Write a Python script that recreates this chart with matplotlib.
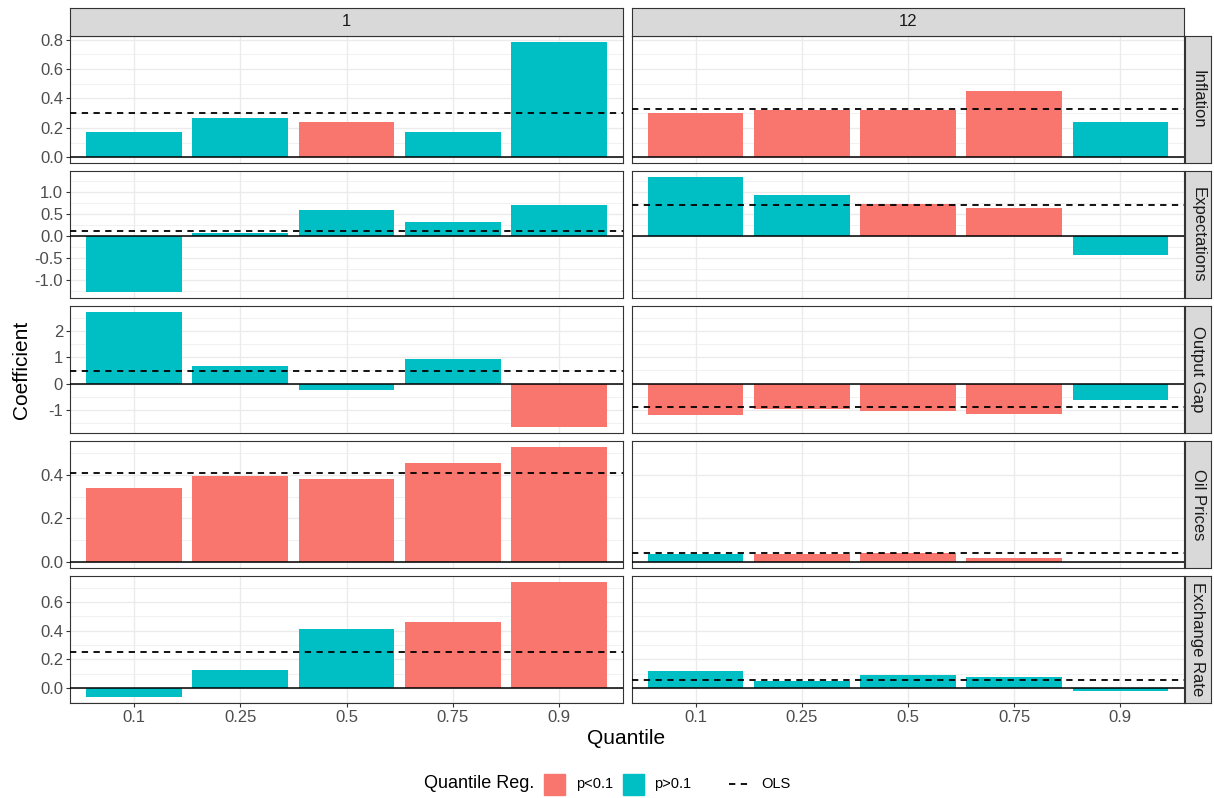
import numpy as np
import matplotlib as mpl
mpl.use("agg")
import matplotlib.pyplot as plt
from matplotlib.patches import Rectangle
from matplotlib.lines import Line2D
from matplotlib.ticker import FixedLocator, MultipleLocator

plt.rcParams['font.family'] = ['Liberation Sans', 'DejaVu Sans']

quantiles = ['0.1', '0.25', '0.5', '0.75', '0.9']
horizons = ['1', '12']
variables = ['Inflation', 'Expectations', 'Output Gap', 'Oil Prices', 'Exchange Rate']

# quantile regression coefficients, [horizon][quantile]
inflation = [[0.173, 0.266, 0.239, 0.170, 0.785],
             [0.300, 0.320, 0.320, 0.448, 0.239]]
expectations = [[-1.277, 0.084, 0.600, 0.320, 0.715],
                [1.354, 0.935, 0.738, 0.646, -0.418]]
output_gap = [[2.745, 0.690, -0.243, 0.920, -1.670],
              [-1.200, -0.970, -1.060, -1.160, -0.640]]
oil_prices = [[0.341, 0.395, 0.382, 0.455, 0.528],
              [0.037, 0.039, 0.041, 0.020, 0.001]]
exchange_rate = [[-0.066, 0.124, 0.415, 0.464, 0.743],
                 [0.121, 0.049, 0.089, 0.075, -0.023]]

# significance: 1 -> p<0.1
sig_inflation = [[0, 0, 1, 0, 0], [1, 1, 1, 1, 0]]
sig_expectations = [[0, 0, 0, 0, 0], [0, 0, 1, 1, 0]]
sig_output_gap = [[0, 0, 0, 0, 1], [1, 1, 1, 1, 0]]
sig_oil_prices = [[1, 1, 1, 1, 1], [0, 1, 1, 1, 0]]
sig_exchange_rate = [[0, 0, 0, 1, 1], [0, 0, 0, 0, 0]]

# OLS coefficient, [horizon]
ols_inflation = [0.302, 0.327]
ols_expectations = [0.120, 0.715]
ols_output_gap = [0.470, -0.894]
ols_oil_prices = [0.409, 0.043]
ols_exchange_rate = [0.250, 0.056]

coefs = [inflation, expectations, output_gap, oil_prices, exchange_rate]
sigs = [sig_inflation, sig_expectations, sig_output_gap, sig_oil_prices, sig_exchange_rate]
ols = [ols_inflation, ols_expectations, ols_output_gap, ols_oil_prices, ols_exchange_rate]

ybreaks = [[0.0, 0.2, 0.4, 0.6, 0.8],
           [-1.0, -0.5, 0.0, 0.5, 1.0],
           [-1, 0, 1, 2],
           [0.0, 0.2, 0.4],
           [0.0, 0.2, 0.4, 0.6]]
ylabels = [['0.0', '0.2', '0.4', '0.6', '0.8'],
           ['-1.0', '-0.5', '0.0', '0.5', '1.0'],
           ['-1', '0', '1', '2'],
           ['0.0', '0.2', '0.4'],
           ['0.0', '0.2', '0.4', '0.6']]

RED = '#F8766D'
TEAL = '#00BFC4'
GRID = '#EBEBEB'
DARK = '#333333'
DASH = (0, (3.5, 3))

W, H = 1214, 798
fig = plt.figure(figsize=(W / 100, H / 100), dpi=100)


def box(x0, y0, x1, y1):
    return [x0 / W, 1 - y1 / H, (x1 - x0) / W, (y1 - y0) / H]


def strip(rect, label, rot):
    sax = fig.add_axes(rect)
    sax.set_facecolor('#D9D9D9')
    sax.set_xticks([])
    sax.set_yticks([])
    for s in sax.spines.values():
        s.set_color(DARK)
        s.set_linewidth(0.8)
    sax.text(0.5, 0.5, label, ha='center', va='center', rotation=rot,
             fontsize=12, color='#1A1A1A', transform=sax.transAxes)


cols = [(70, 623), (632, 1184)]
row_tops = [36, 171, 306, 441, 576]
row_h = 127
x = np.arange(len(quantiles))

for r in range(5):
    # shared y range per row, 5% expansion
    allv = np.concatenate([np.array(coefs[r]).ravel(), [0.0], ols[r]])
    lo, hi = allv.min(), allv.max()
    pad = (hi - lo) * 0.05
    ylim = (lo - pad, hi + pad)
    step = ybreaks[r][1] - ybreaks[r][0]
    for c in range(2):
        ax = fig.add_axes(box(cols[c][0], row_tops[r], cols[c][1], row_tops[r] + row_h))
        ax.set_xlim(-0.6, 4.6)
        ax.set_ylim(*ylim)
        colors = [RED if s else TEAL for s in sigs[r][c]]
        ax.bar(x, coefs[r][c], width=0.9, color=colors, zorder=2)
        ax.axhline(0, color='black', lw=1.1, zorder=3)
        ax.axhline(ols[r][c], color='black', lw=1.3, ls=DASH, zorder=4)

        ax.yaxis.set_major_locator(FixedLocator(ybreaks[r]))
        ax.yaxis.set_minor_locator(MultipleLocator(step / 2))
        ax.set_xticks(x)
        ax.grid(True, which='major', color=GRID, lw=1.0, zorder=0)
        ax.grid(True, which='minor', axis='y', color=GRID, lw=0.5, zorder=0)
        ax.set_axisbelow(True)
        for s in ax.spines.values():
            s.set_color(DARK)
            s.set_linewidth(0.8)
        ax.tick_params(which='minor', length=0)
        ax.tick_params(which='major', length=3, width=0.8, color=DARK,
                       labelcolor='#4D4D4D', labelsize=12, pad=2)
        if c == 0:
            ax.set_yticklabels(ylabels[r])
        else:
            ax.tick_params(axis='y', length=0, labelleft=False)
        if r == 4:
            ax.set_xticklabels(quantiles)
        else:
            ax.tick_params(axis='x', length=0, labelbottom=False)

        if r == 0:
            strip(box(cols[c][0], 8, cols[c][1], 36), horizons[c], 0)

    strip(box(1185, row_tops[r], 1211, row_tops[r] + row_h), variables[r], -90)

fig.text(22 / W, 1 - 370 / H, 'Coefficient', rotation=90, ha='center', va='center',
         fontsize=15, color='black')
fig.text(626 / W, 1 - 739 / H, 'Quantile', ha='center', va='center',
         fontsize=15, color='black')

# legend along the bottom
lax = fig.add_axes([0, 0, 1, 1])
lax.set_xlim(0, W)
lax.set_ylim(H, 0)
lax.axis('off')
ly = 784
lax.text(424, ly, 'Quantile Reg.', ha='left', va='center', fontsize=13)
lax.add_patch(Rectangle((544, ly - 10.5), 21, 21, color=RED))
lax.text(576, ly, 'p<0.1', ha='left', va='center', fontsize=10.5)
lax.add_patch(Rectangle((623, ly - 10.5), 21, 21, color=TEAL))
lax.text(654, ly, 'p>0.1', ha='left', va='center', fontsize=10.5)
lax.add_line(Line2D([729, 748], [ly, ly], color='black', lw=1.3, ls=DASH))
lax.text(761, ly, 'OLS', ha='left', va='center', fontsize=10.5)

plt.savefig('out.png', dpi=100)
